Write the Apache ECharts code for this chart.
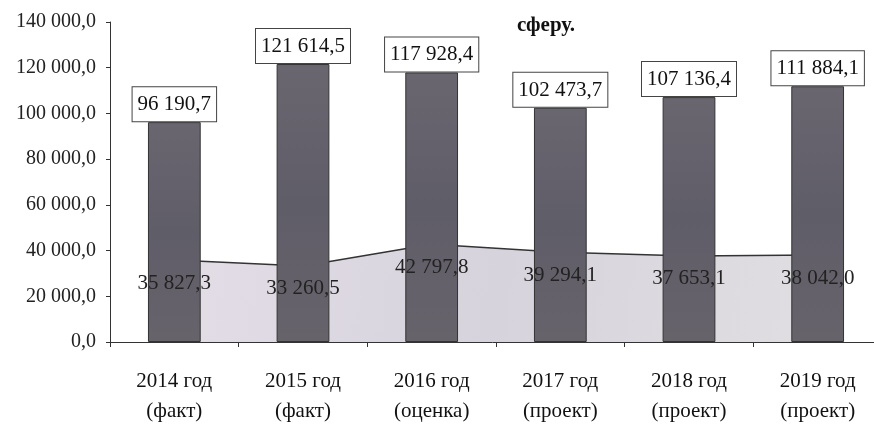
<!DOCTYPE html>
<html>
<head>
<meta charset="utf-8">
<script src="https://cdn.jsdelivr.net/npm/echarts@6/dist/echarts.min.js"></script>
<style>
  html, body { margin: 0; padding: 0; background: #fff; }
  #chart { width: 874px; height: 428px; }
</style>
</head>
<body>
<div id="chart"></div>
<script>
// годы и статус
const years = ['2014 год', '2015 год', '2016 год', '2017 год', '2018 год', '2019 год'];
const status = ['(факт)', '(факт)', '(оценка)', '(проект)', '(проект)', '(проект)'];
// столбцы
const barValues = [96190.7, 121614.5, 117928.4, 102473.7, 107136.4, 111884.1];
// область
const areaValues = [35827.3, 33260.5, 42797.8, 39294.1, 37653.1, 38042.0];
const yTicks = { min: 0, max: 140000, step: 20000 };

function fmt(v) {
  let parts = Number(v).toFixed(1).split('.');
  return parts[0].replace(/\B(?=(\d{3})+(?!\d))/g, ' ') + ',' + parts[1];
}

const serif = "'Liberation Serif', 'DejaVu Serif', serif";
let myChart = echarts.init(document.getElementById('chart'));

let option = {
  animation: false,
  backgroundColor: '#fff',
  title: {
    text: 'сферу.',
    left: 512,
    top: 10,
    textStyle: {
      fontFamily: serif,
      fontSize: 21,
      fontWeight: 'bold',
      color: '#111'
    }
  },
  grid: {
    left: 110,
    width: 772,
    top: 22,
    bottom: 86,
    outerBoundsMode: 'none'
  },
  xAxis: {
    type: 'category',
    data: years.map((y, i) => y + '\n' + status[i]),
    axisLine: {
      lineStyle: { color: '#333', width: 1 }
    },
    axisTick: {
      show: true,
      length: 5,
      lineStyle: { color: '#333' }
    },
    axisLabel: {
      margin: 24,
      fontFamily: serif,
      fontSize: 21,
      lineHeight: 30,
      color: '#111'
    }
  },
  yAxis: {
    type: 'value',
    min: yTicks.min,
    max: yTicks.max,
    interval: yTicks.step,
    splitLine: { show: false },
    axisLine: {
      show: true,
      lineStyle: { color: '#333', width: 1 }
    },
    axisTick: {
      show: true,
      length: 4,
      lineStyle: { color: '#333' }
    },
    axisLabel: {
      margin: 14,
      fontFamily: serif,
      fontSize: 20,
      color: '#222',
      formatter: fmt
    }
  },
  series: [{
    name: 'area',
    type: 'line',
    data: areaValues,
    symbol: 'none',
    z: 1,
    lineStyle: {
      color: '#333',
      width: 1.5
    },
    areaStyle: {
      color: new echarts.graphic.LinearGradient(0, 0, 1, 1, [{
        offset: 0,
        color: '#e3dde6'
      }, {
        offset: 0.5,
        color: '#d6d3dc'
      }, {
        offset: 1,
        color: '#e1dee2'
      }]),
      opacity: 1
    }
  }, {
    name: 'bars',
    type: 'bar',
    data: barValues,
    barWidth: '41%',
    z: 2,
    itemStyle: {
      color: new echarts.graphic.LinearGradient(0, 0, 0, 1, [{
        offset: 0,
        color: '#6a6670'
      }, {
        offset: 0.5,
        color: '#5f5d68'
      }, {
        offset: 1,
        color: '#67636b'
      }]),
      borderColor: '#333',
      borderWidth: 1
    },
    label: {
      show: true,
      position: 'top',
      distance: 1,
      fontFamily: serif,
      fontSize: 21,
      color: '#111',
      backgroundColor: '#fff',
      borderColor: '#444',
      borderWidth: 1,
      padding: [7, 5, 6, 5],
      formatter: p => fmt(p.value)
    }
  }, {
    // подписи области поверх столбцов
    name: 'areaLabels',
    type: 'line',
    data: areaValues,
    symbol: 'circle',
    symbolSize: 1,
    showSymbol: true,
    z: 3,
    silent: true,
    itemStyle: {
      color: 'rgba(0, 0, 0, 0)',
      borderWidth: 0
    },
    lineStyle: {
      width: 0,
      opacity: 0
    },
    label: {
      show: true,
      position: 'bottom',
      distance: 12,
      fontFamily: serif,
      fontSize: 21,
      color: '#222',
      formatter: p => fmt(p.value)
    },
    labelLayout: {
      hideOverlap: false
    }
  }]
};

myChart.setOption(option, true);

window.addEventListener('resize', () => {
  myChart.resize();
});
</script>
</body>
</html>
